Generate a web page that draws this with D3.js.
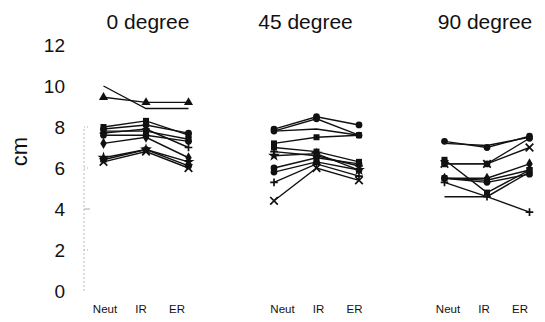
<!DOCTYPE html>
<html>
<head>
<meta charset="utf-8">
<script src="https://cdn.jsdelivr.net/npm/d3@7"></script>
<style>
  html, body { margin: 0; padding: 0; background: #fff; }
  svg { display: block; font-family: "Liberation Sans", Arial, sans-serif; }
</style>
</head>
<body>
<div id="chart"></div>
<script>
// ---- data ----
const groups = ["0 degree", "45 degree", "90 degree"];
const categories = ["Neut", "IR", "ER"];
const yTicks = [0, 2, 4, 6, 8, 10, 12];

// each row: one subject, values at Neut, IR, ER (cm)
const deg0Values = [
  [10.0, 8.9, 8.9],
  [9.45, 9.2, 9.2],
  [8.0, 8.3, 7.6],
  [7.9, 8.1, 7.7],
  [7.8, 7.8, 7.4],
  [7.7, 7.9, 7.0],
  [7.6, 7.6, 7.3],
  [7.2, 7.5, 6.5],
  [6.5, 6.9, 6.3],
  [6.4, 6.9, 6.1],
  [6.3, 6.8, 6.0]
];
const deg45Values = [
  [7.9, 8.5, 8.1],
  [7.8, 8.4, 7.6],
  [7.8, 7.9, 7.6],
  [7.2, 7.5, 7.6],
  [7.0, 6.8, 6.3],
  [6.8, 6.6, 6.1],
  [6.6, 6.7, 5.9],
  [6.0, 6.5, 6.2],
  [5.8, 6.3, 5.9],
  [5.3, 6.2, 5.6],
  [4.4, 6.0, 5.4]
];
const deg90Values = [
  [7.3, 7.0, 7.55],
  [7.2, 7.1, 7.5],
  [6.4, 4.8, 5.9],
  [6.2, 6.2, 7.0],
  [6.2, 6.2, 7.45],
  [5.5, 5.5, 6.2],
  [5.5, 5.4, 5.9],
  [5.5, 5.3, 5.7],
  [5.3, 4.6, 3.85],
  [4.6, 4.6, 5.8]
];

// marker shape for each subject line (style, kept apart from values)
const deg0Markers  = ["none", "triangle", "square", "circle", "square", "plus", "circle", "diamond", "star", "circle", "times"];
const deg45Markers = ["circle", "circle", "none", "square", "square", "plus", "star", "circle", "circle", "plus", "times"];
const deg90Markers = ["circle", "none", "square", "times", "circle", "diamond", "square", "circle", "plus", "none"];

const groupValues = [deg0Values, deg45Values, deg90Values];
const groupMarkers = [deg0Markers, deg45Markers, deg90Markers];

// ---- drawing ----
const W = 545, H = 322;
const svg = d3.select("#chart").append("svg").attr("width", W).attr("height", H);
svg.append("rect").attr("width", W).attr("height", H).attr("fill", "#fff");

const y = d3.scaleLinear().domain([0, 12]).range([291, 45]);
const xGroup = d3.scalePoint().domain(groups).range([146, 487]);
const xInner = d3.scalePoint().domain(categories).range([-42.5, 42.5]);
const xPos = (g, c) => xGroup(g) + xInner(c);
// category tick labels sit a little tighter than the points
const xLabel = d3.scalePoint().domain(categories).range([-37, 35]);

// y axis (faint, as in the scanned original)
const axisX = 84;
const yAxis = svg.append("g")
  .attr("transform", `translate(${axisX},0)`)
  .call(d3.axisLeft(y).tickValues(yTicks).tickSize(0).tickPadding(19).tickFormat(d3.format("d")));
yAxis.select(".domain").remove();
yAxis.selectAll("text")
  .attr("font-size", 19)
  .attr("font-family", "Liberation Sans, Arial, sans-serif")
  .attr("fill", "#111");

svg.append("line")
  .attr("x1", axisX).attr("x2", axisX)
  .attr("y1", y(0)).attr("y2", y(8))
  .attr("stroke", "#bbb").attr("stroke-width", 1)
  .attr("stroke-dasharray", "2,2");
svg.append("g").selectAll("line")
  .data([2, 4, 6, 8])
  .join("line")
  .attr("x1", axisX).attr("x2", axisX + 6)
  .attr("y1", d => y(d)).attr("y2", d => y(d))
  .attr("stroke", "#aaa").attr("stroke-width", 1)
  .attr("stroke-dasharray", d => d === 4 ? null : "1,2");

// y title
svg.append("text")
  .attr("transform", `translate(27,${y(6.8)}) rotate(-90)`)
  .attr("text-anchor", "middle")
  .attr("font-size", 22)
  .attr("fill", "#111")
  .text("cm");

// group titles
const titleOffsets = [2, -11, -2];
svg.append("g").selectAll("text")
  .data(groups)
  .join("text")
  .attr("x", (d, i) => xGroup(d) + titleOffsets[i])
  .attr("y", 29)
  .attr("text-anchor", "middle")
  .attr("font-size", 21)
  .attr("fill", "#111")
  .text(d => d);

// category labels
const labelShift = [-4, 3, -2];
groups.forEach((g, gi) => {
  svg.append("g").selectAll("text")
    .data(categories)
    .join("text")
    .attr("x", c => xGroup(g) + xLabel(c) + labelShift[gi])
    .attr("y", 313)
    .attr("text-anchor", "middle")
    .attr("font-size", 11.5)
    .attr("fill", "#111")
    .text(c => c);
});

// lines and markers
const line = d3.line().x(d => d.x).y(d => d.y);
const symbolMap = {
  circle: d3.symbolCircle,
  square: d3.symbolSquare,
  triangle: d3.symbolTriangle,
  diamond: d3.symbolDiamond,
  star: d3.symbolStar
};

groups.forEach((g, gi) => {
  const gEl = svg.append("g");
  groupValues[gi].forEach((vals, si) => {
    const pts = vals.map((v, ci) => ({ x: xPos(g, categories[ci]), y: y(v) }));
    gEl.append("path")
      .attr("d", line(pts))
      .attr("fill", "none")
      .attr("stroke", "#111")
      .attr("stroke-width", 1.4);
    const m = groupMarkers[gi][si];
    if (m === "none") return;
    pts.forEach(p => {
      if (symbolMap[m]) {
        gEl.append("path")
          .attr("transform", `translate(${p.x},${p.y})`)
          .attr("d", d3.symbol().type(symbolMap[m]).size(m === "star" ? 44 : 36)())
          .attr("fill", "#111");
      } else {
        const s = 3.8;
        const d = m === "plus"
          ? `M${-s},0H${s}M0,${-s}V${s}`
          : `M${-s},${-s}L${s},${s}M${-s},${s}L${s},${-s}`;
        gEl.append("path")
          .attr("transform", `translate(${p.x},${p.y})`)
          .attr("d", d)
          .attr("fill", "none")
          .attr("stroke", "#111")
          .attr("stroke-width", 1.7);
      }
    });
  });
});
</script>
</body>
</html>
